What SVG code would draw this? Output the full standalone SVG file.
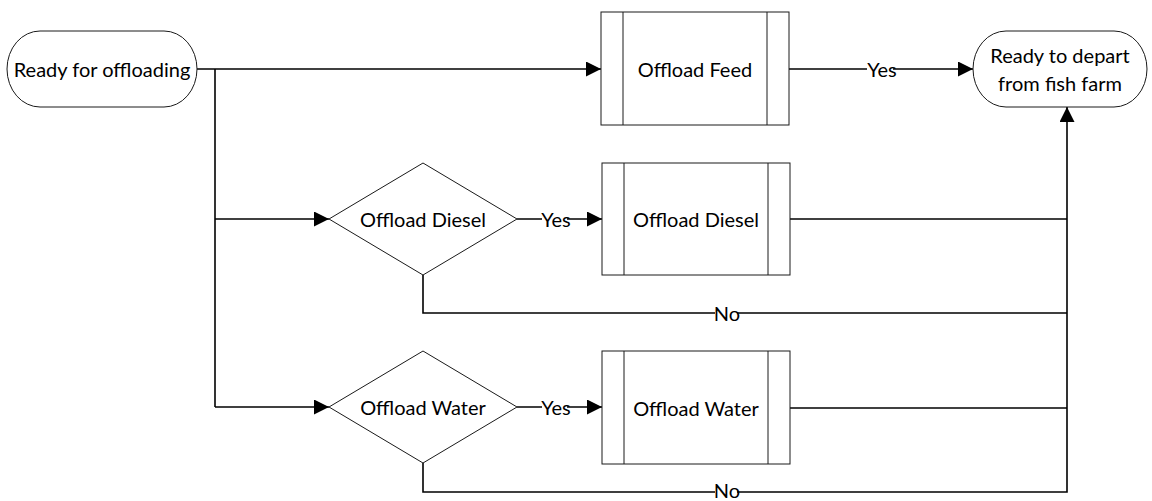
<svg xmlns="http://www.w3.org/2000/svg" width="1152" height="501" viewBox="0 0 1152 501">
  <style>
    .shape { fill: #ffffff; stroke: #1a1a1a; stroke-width: 1; }
    .edge { fill: none; stroke: #000000; stroke-width: 1.6; }
    .txt { font-family: "Lato", "Liberation Sans", sans-serif; font-size: 20px; fill: #000000; text-anchor: middle; dominant-baseline: central; }
    .lbl-bg { fill: #ffffff; }
  </style>
  <defs>
    <marker id="arrow" markerUnits="userSpaceOnUse" markerWidth="16" markerHeight="16" refX="15" refY="7.5" orient="auto">
      <path d="M0,0 L15,7.5 L0,15 z" fill="#000000"/>
    </marker>
  </defs>

  <rect width="1152" height="501" fill="#ffffff"/>

  <!-- connectors -->
  <g id="connectors">
    <path class="edge" d="M197,69 H601" marker-end="url(#arrow)"/>
    <path class="edge" d="M215,69 V407"/>
    <path class="edge" d="M215,219 H329" marker-end="url(#arrow)"/>
    <path class="edge" d="M215,407 H329" marker-end="url(#arrow)"/>
    <path class="edge" d="M789,69 H973" marker-end="url(#arrow)"/>
    <path class="edge" d="M517,219 H602" marker-end="url(#arrow)"/>
    <path class="edge" d="M517,407 H602" marker-end="url(#arrow)"/>
    <path class="edge" d="M790,219 H1067"/>
    <path class="edge" d="M790,408 H1067"/>
    <path class="edge" d="M423,275 V313 H1067"/>
    <path class="edge" d="M423,463 V492 H1067 V107" marker-end="url(#arrow)"/>

    <!-- edge labels -->
    <rect class="lbl-bg" x="867" y="60" width="26" height="18"/>
    <text class="txt" x="882" y="69">Yes</text>
    <rect class="lbl-bg" x="542" y="210" width="25" height="18"/>
    <text class="txt" x="556" y="219">Yes</text>
    <rect class="lbl-bg" x="542" y="398" width="25" height="18"/>
    <text class="txt" x="556" y="407">Yes</text>
    <rect class="lbl-bg" x="715" y="304" width="22" height="18"/>
    <text class="txt" x="727" y="313">No</text>
    <rect class="lbl-bg" x="715" y="482" width="22" height="19"/>
    <text class="txt" x="727" y="490">No</text>
  </g>

  <!-- start terminator -->
  <g id="start">
    <rect class="shape" x="7" y="31" width="190" height="76" rx="33" ry="38"/>
    <text class="txt" x="102" y="69">Ready for offloading</text>
  </g>

  <!-- process: Offload Feed -->
  <g id="offload-feed">
    <rect class="shape" x="601" y="12" width="188" height="113"/>
    <path class="shape" d="M623,12 V125 M767,12 V125"/>
    <text class="txt" x="695" y="69">Offload Feed</text>
  </g>

  <!-- end terminator -->
  <g id="end">
    <rect class="shape" x="973" y="31" width="174" height="76" rx="33" ry="38"/>
    <text class="txt" x="1060" y="55">Ready to depart</text>
    <text class="txt" x="1060" y="83">from fish farm</text>
  </g>

  <!-- decision: Offload Diesel -->
  <g id="decision-diesel">
    <polygon class="shape" points="423,163 517,219 423,275 329,219"/>
    <text class="txt" x="423" y="219">Offload Diesel</text>
  </g>

  <!-- process: Offload Diesel -->
  <g id="offload-diesel">
    <rect class="shape" x="602" y="163" width="188" height="112"/>
    <path class="shape" d="M624,163 V275 M768,163 V275"/>
    <text class="txt" x="696" y="219">Offload Diesel</text>
  </g>

  <!-- decision: Offload Water -->
  <g id="decision-water">
    <polygon class="shape" points="423,351 517,407 423,463 329,407"/>
    <text class="txt" x="423" y="407">Offload Water</text>
  </g>

  <!-- process: Offload Water -->
  <g id="offload-water">
    <rect class="shape" x="602" y="351" width="188" height="113"/>
    <path class="shape" d="M624,351 V464 M768,351 V464"/>
    <text class="txt" x="696" y="408">Offload Water</text>
  </g>
</svg>
